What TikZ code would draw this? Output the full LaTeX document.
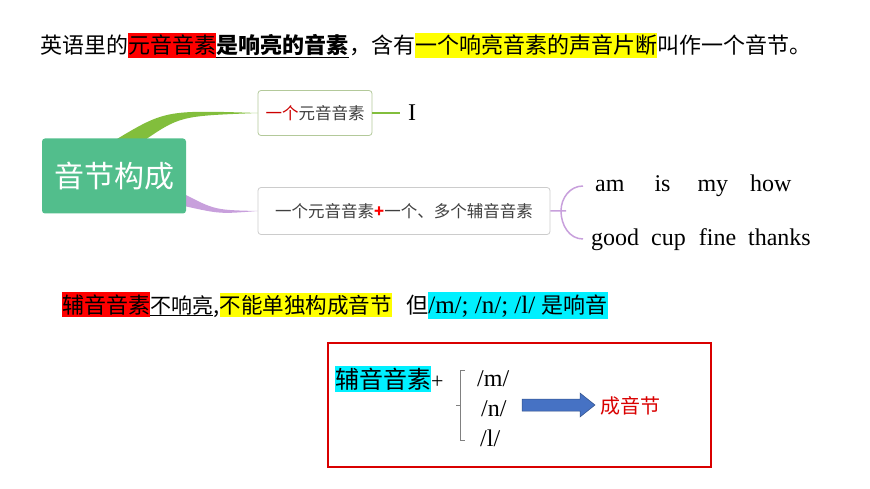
\documentclass[tikz,border=0pt]{standalone}
\usepackage{fontspec}
\setmainfont{Liberation Serif}
\newfontfamily\cjk{Noto Sans CJK SC}
\definecolor{cgreen}{RGB}{82,190,140}
\definecolor{lgreen}{RGB}{130,190,60}
\definecolor{lpurp}{RGB}{200,160,220}
\definecolor{ablue}{RGB}{70,114,196}
\definecolor{hred}{RGB}{255,0,0}
\definecolor{hyel}{RGB}{255,255,0}
\definecolor{hcyan}{RGB}{0,240,255}
\tikzset{seg/.style={inner sep=0pt,anchor=base west,font=\cjk\fontsize{22}{24}\selectfont},
 hl/.style={seg,fill=#1,inner ysep=2pt,outer sep=0pt},
 mbox/.style={draw=#1,rounded corners=3pt,line width=0.8pt,fill=white,font=\cjk\fontsize{16.5}{18}\selectfont,text=black!75,inner xsep=7pt,minimum height=45pt},
 eng/.style={anchor=base west,inner sep=0pt,font=\fontsize{24}{26}\selectfont}}
\begin{document}
\begin{tikzpicture}[x=1pt,y=-1pt]
\useasboundingbox (0,0) rectangle (870,489);
% top line
\node[seg] (t1) at (40,54) {英语里的};
\node[hl=hred] (t2) at (t1.base east) {元音音素};
\node[seg] (t3) at (t2.base east) {\bfseries 是响亮的音素};
\draw[line width=1pt] ([yshift=-1pt]t3.south west) -- ([yshift=-1pt]t3.south east);
\node[seg] (t4) at (t3.base east) {，含有};
\node[hl=hyel] (t5) at (t4.base east) {一个响亮音素的声音片断};
\node[seg] (t6) at (t5.base east) {叫作一个音节。};
% mind map
\node[mbox=lgreen!60!gray!60,minimum width=114pt] (b1) at (315,113) {\textcolor{red!80!black}{一个}元音音素};
\node[mbox=black!20,minimum width=292pt,minimum height=47pt] (b2) at (404,211) {一个元音音素\textcolor{red}{\bfseries +}一个、多个辅音音素};
\fill[lgreen] (112,142) .. controls (165,110) .. (b1.west) .. controls (180,116) .. (142,142) -- cycle;
\fill[lpurp] (184,194) .. controls (215,210) .. (b2.west) .. controls (220,214) .. (184,206) -- cycle;
\node[fill=cgreen,rounded corners=3pt,text=white,minimum width=144pt,minimum height=75pt,inner sep=0pt,font=\cjk\fontsize{30}{32}\selectfont] (c) at (114,176) {音节构成};
\coordinate (i0) at (400,113);
\draw[lgreen,line width=1.5pt] (b1.east) -- (i0);
\node[eng,anchor=west] (iI) at (408,113) {I};
\coordinate (br) at (566,211);
\coordinate (bu) at (583,186);
\coordinate (bd) at (583,239);
\draw[lpurp,line width=1.5pt] (b2.east) -- (br) (bu) to[out=180,in=90] ([xshift=-5]br) to[out=-90,in=180] (bd) (br) -- ([xshift=-5]br);
\node[eng,anchor=west] (w1) at (595,186) {am\hspace{30pt}is\hspace{27pt}my\hspace{22pt}how};
\node[eng,anchor=west] (w2) at (591,240) {good\hspace{12pt}cup\hspace{13pt}fine\hspace{12pt}thanks};
% second line
\node[hl=hred,font=\cjk\fontsize{22}{24}\selectfont] (s1) at (62,313) {辅音音素};
\node[seg,font=\cjk\fontsize{21}{24}\selectfont] (s2) at (s1.base east) {不响亮};
\draw[line width=1pt] ([yshift=-1pt]s2.south west) -- ([yshift=-1pt]s2.south east);
\node[seg] (s3) at (s2.base east) {,\hspace{18pt}};
\node[hl=hyel,font=\cjk\fontsize{21.5}{24}\selectfont] (s4) at (s3.base east) {不能单独构成音节};
\node[seg] (s5) at (s4.base east) {\hspace{14pt}但};
\node[hl=hcyan,font=\fontsize{25}{26}\selectfont] (s6) at (s5.base east) {/m/; /n/; /l/ {\cjk\fontsize{22}{24}\selectfont 是响音}};
% red box
\node[draw=red!85!black,line width=2pt,minimum width=383pt,minimum height=124pt,inner sep=0pt] (rb) at (519.5,405) {};
\node[hl=hcyan,font=\cjk\fontsize{24}{26}\selectfont] (k1) at (335,388) {辅音音素};
\node[seg,font=\fontsize{22}{24}\selectfont] (k2) at (k1.base east) {+};
\coordinate (ba) at (465,370);
\coordinate (bb) at (465,440);
\draw[black!50,line width=0.6pt] (ba) -- ([xshift=-5]ba) -- ([xshift=-5]bb) -- (bb) ([xshift=-5,yshift=-35]ba) -- ([xshift=-9,yshift=-35]ba);
\node[eng] (m1) at (477,386) {/m/};
\node[eng] (m2) at (481,416) {/n/};
\node[eng] (m3) at (480,446) {/l/};
\fill[ablue,draw=ablue!70!black,line width=0.5pt] (522,399) -- (580,399) -- (580,393) -- (595,405) -- (580,417) -- (580,411) -- (522,411) -- cycle;
\node[anchor=west,inner sep=0pt,text=red!85!black,font=\cjk\fontsize{20}{22}\selectfont] (cy) at (600,406) {成音节};
\end{tikzpicture}
\end{document}
